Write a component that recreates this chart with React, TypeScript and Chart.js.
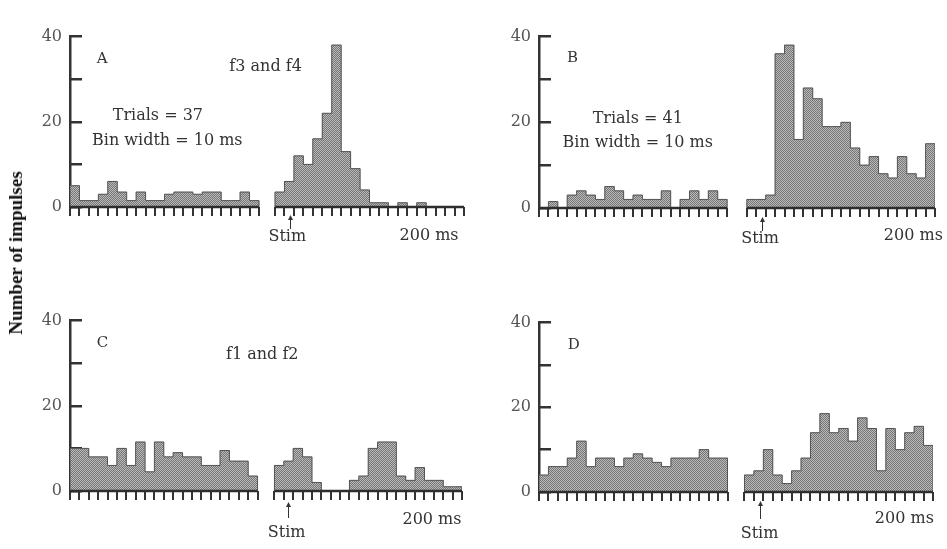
import React, { useEffect, useRef } from "react";
import { Chart, registerables } from "chart.js";

Chart.register(...registerables);

// ---- data (impulse counts per 10 ms bin) ----
const BINS = 20;
const A_PRE = [5, 1.5, 1.5, 3, 6, 3.5, 1.5, 3.5, 1.5, 1.5, 3, 3.5, 3.5, 3, 3.5, 3.5, 1.5, 1.5, 3.5, 1.5];
const A_POST = [3.5, 6, 12, 10, 16, 22, 38, 13, 9, 4, 1, 1, 0, 1, 0, 1, 0, 0, 0, 0];
const B_PRE = [0, 1.5, 0, 3, 4, 3, 2, 5, 4, 2, 3, 2, 2, 4, 0, 2, 4, 2, 4, 2];
const B_POST = [2, 2, 3, 36, 38, 16, 28, 25.5, 19, 19, 20, 14, 10, 12, 8, 7, 12, 8, 7, 15];
const C_PRE = [10, 10, 8, 8, 6, 10, 6, 11.5, 4.5, 11.5, 8, 9, 8, 8, 6, 6, 9.5, 7, 7, 3.5];
const C_POST = [6, 7, 10, 8, 2, 0, 0, 0, 2.5, 3.5, 10, 11.5, 11.5, 3.5, 2.5, 5.5, 2.5, 2.5, 1, 1];
const D_PRE = [4, 6, 6, 8, 12, 6, 8, 8, 6, 8, 9, 8, 7, 6, 8, 8, 8, 10, 8, 8];
const D_POST = [4, 5, 10, 4, 2, 5, 8, 14, 18.5, 14, 15, 12, 17.5, 15, 5, 15, 10, 14, 15.5, 11];

const Y_TICKS = [0, 10, 20, 30, 40];
const Y_TICK_LABELS = ["0", "", "20", "", "40"];

// ---- layout ----
const AXW = 50;
const PADT = 10;
const PADR = 25;
const XAH = 60;
const FONT = '"DejaVu Serif", serif';

type Txt = { text: string; x: number; y?: number; dy?: number; size: number; color?: string };
type PanelCfg = {
  pre: number[];
  post: number[];
  areaLeft: number;
  areaTop: number;
  areaBottom: number;
  px: number;
  postStart: number;
  texts: Txt[];
  arrow: { x: number; tip: number; tail: number };
};

const PANELS: PanelCfg[] = [
  {
    pre: A_PRE, post: A_POST, areaLeft: 70, areaTop: 17, areaBottom: 207, px: 9.45, postStart: 21.7,
    texts: [
      { text: "A", x: 3.4, y: 34.7, size: 15 },
      { text: "f3 and f4", x: 20.7, y: 32.8, size: 16 },
      { text: "Trials = 37", x: 9.3, y: 21.5, size: 16 },
      { text: "Bin width = 10 ms", x: 10.3, y: 15.6, size: 16 },
      { text: "Stim", x: 23.0, dy: 30, size: 16 },
      { text: "200 ms", x: 38.0, dy: 29, size: 16 },
    ],
    arrow: { x: 23.28, tip: 8, tail: 22 },
  },
  {
    pre: B_PRE, post: B_POST, areaLeft: 539, areaTop: 16.7, areaBottom: 208, px: 9.4, postStart: 22.1,
    texts: [
      { text: "B", x: 3.56, y: 35, size: 15 },
      { text: "Trials = 41", x: 10.5, y: 20.8, size: 16 },
      { text: "Bin width = 10 ms", x: 10.5, y: 15.3, size: 16 },
      { text: "Stim", x: 23.5, dy: 31, size: 16 },
      { text: "200 ms", x: 39.8, dy: 28, size: 16 },
    ],
    arrow: { x: 23.7, tip: 9, tail: 23 },
  },
  {
    pre: C_PRE, post: C_POST, areaLeft: 70, areaTop: 300.7, areaBottom: 490.5, px: 9.38, postStart: 21.8,
    texts: [
      { text: "C", x: 3.46, y: 34.8, size: 15 },
      { text: "f1 and f2", x: 20.5, y: 31.9, size: 16 },
      { text: "Stim", x: 23.1, dy: 42, size: 16 },
      { text: "200 ms", x: 38.6, dy: 29, size: 16 },
    ],
    arrow: { x: 23.24, tip: 11, tail: 27 },
  },
  {
    pre: D_PRE, post: D_POST, areaLeft: 538.5, areaTop: 303.3, areaBottom: 492, px: 9.43, postStart: 21.8,
    texts: [
      { text: "D", x: 3.7, y: 34.8, size: 15 },
      { text: "Stim", x: 23.4, dy: 42, size: 16 },
      { text: "200 ms", x: 38.76, dy: 27, size: 16 },
    ],
    arrow: { x: 23.4, tip: 9, tail: 27 },
  },
];

function makePattern(ctx: CanvasRenderingContext2D) {
  const c = document.createElement("canvas");
  c.width = 2;
  c.height = 2;
  const g = c.getContext("2d")!;
  g.fillStyle = "#bababa";
  g.fillRect(0, 0, 2, 2);
  g.fillStyle = "#767676";
  g.fillRect(0, 0, 1, 1);
  g.fillRect(1, 1, 1, 1);
  return ctx.createPattern(c, "repeat")!;
}

function outline(vals: number[], start: number) {
  const pts: { x: number; y: number | null }[] = [{ x: start, y: 0 }];
  vals.forEach((v, i) => pts.push({ x: start + i, y: v }));
  pts.push({ x: start + vals.length, y: vals[vals.length - 1] });
  pts.push({ x: start + vals.length, y: 0 });
  return pts;
}

const textPlugin = {
  id: "panelText",
  afterDraw(chart: any, _args: any, opts: any) {
    const { ctx } = chart;
    const xs = chart.scales.x;
    const ys = chart.scales.y;
    const base = ys.getPixelForValue(0);
    ctx.save();
    ctx.textAlign = "center";
    ctx.textBaseline = "middle";
    for (const t of opts.texts as Txt[]) {
      const px = xs.getPixelForValue(t.x);
      const py = t.y !== undefined ? ys.getPixelForValue(t.y) : base + (t.dy || 0);
      ctx.font = `${t.size}px ${FONT}`;
      ctx.fillStyle = t.color || "#333";
      ctx.fillText(t.text, px, py);
    }
    const a = opts.arrow;
    const ax = Math.round(xs.getPixelForValue(a.x)) + 0.5;
    ctx.strokeStyle = "#333";
    ctx.fillStyle = "#333";
    ctx.lineWidth = 1;
    ctx.beginPath();
    ctx.moveTo(ax, base + a.tail);
    ctx.lineTo(ax, base + a.tip + 3);
    ctx.stroke();
    ctx.beginPath();
    ctx.moveTo(ax, base + a.tip);
    ctx.lineTo(ax - 2.5, base + a.tip + 5);
    ctx.lineTo(ax + 2.5, base + a.tip + 5);
    ctx.closePath();
    ctx.fill();
    ctx.restore();
  },
};

function Panel({ cfg }: { cfg: PanelCfg }) {
  const ref = useRef<HTMLCanvasElement>(null);
  const xMax = cfg.postStart + BINS;
  const w = Math.round(AXW + xMax * cfg.px + PADR);
  const h = Math.round(PADT + (cfg.areaBottom - cfg.areaTop) + XAH);
  const left = Math.round(cfg.areaLeft - AXW);
  const top = Math.round(cfg.areaTop - PADT);

  useEffect(() => {
    const canvas = ref.current!;
    const ctx = canvas.getContext("2d")!;
    const pattern = makePattern(ctx);
    const bars = [
      ...cfg.pre.map((v, i) => ({ x: i + 0.5, y: v })),
      ...cfg.post.map((v, i) => ({ x: cfg.postStart + i + 0.5, y: v })),
    ];
    const mid = (BINS + cfg.postStart) / 2;
    const outlinePts = [...outline(cfg.pre, 0), { x: mid, y: null }, ...outline(cfg.post, cfg.postStart)];
    const basePts = [
      { x: 0, y: 0 },
      { x: BINS, y: 0 },
      { x: mid, y: null },
      { x: cfg.postStart, y: 0 },
      { x: xMax, y: 0 },
    ];
    const xTicks: number[] = [];
    for (let i = 0; i <= BINS; i++) xTicks.push(i);
    for (let i = 0; i <= BINS; i++) xTicks.push(cfg.postStart + i);

    const chart = new Chart(ctx, {
      type: "bar",
      data: {
        datasets: [
          {
            type: "line",
            data: basePts as any,
            borderColor: "#2e2e2e",
            borderWidth: 2.5,
            pointRadius: 0,
            spanGaps: false,
            clip: false as any,
            order: 1,
          } as any,
          {
            type: "line",
            data: outlinePts as any,
            borderColor: "#555",
            borderWidth: 1,
            pointRadius: 0,
            stepped: true,
            spanGaps: false,
            order: 2,
          } as any,
          {
            type: "bar",
            data: bars as any,
            backgroundColor: pattern as any,
            borderWidth: 0,
            barPercentage: 1,
            categoryPercentage: 1,
            grouped: false,
            order: 3,
          } as any,
        ],
      },
      options: {
        responsive: false,
        animation: false,
        events: [],
        layout: { padding: { top: PADT, right: PADR, left: 0, bottom: 0 } },
        plugins: {
          legend: { display: false },
          tooltip: { enabled: false },
          panelText: { texts: cfg.texts, arrow: cfg.arrow },
        } as any,
        scales: {
          x: {
            type: "linear",
            min: 0,
            max: xMax,
            offset: false,
            afterBuildTicks: (s: any) => {
              s.ticks = xTicks.map((v) => ({ value: v }));
            },
            afterFit: (s: any) => {
              s.height = XAH;
            },
            ticks: { display: false },
            grid: {
              display: true,
              offset: false,
              drawOnChartArea: false,
              drawTicks: true,
              tickLength: 9,
              lineWidth: 2,
              color: "#333",
            },
            border: { display: false },
          } as any,
          y: {
            type: "linear",
            min: 0,
            max: 40,
            afterBuildTicks: (s: any) => {
              s.ticks = Y_TICKS.map((v) => ({ value: v }));
            },
            afterFit: (s: any) => {
              s.width = AXW;
            },
            ticks: {
              callback: (_v: any, i: number) => Y_TICK_LABELS[i],
              padding: 20,
              color: "#555",
              font: { family: FONT, size: 16 },
            },
            grid: {
              drawOnChartArea: false,
              drawTicks: true,
              tickLength: -12,
              lineWidth: 2.5,
              color: "#333",
            },
            border: { display: true, width: 2.5, color: "#333" },
          } as any,
        },
      },
      plugins: [textPlugin as any],
    });
    return () => chart.destroy();
  }, [cfg]);

  return (
    <canvas
      ref={ref}
      width={w}
      height={h}
      style={{ position: "absolute", left, top, width: w, height: h }}
    />
  );
}

export default function App() {
  return (
    <div
      style={{
        position: "fixed",
        left: 0,
        top: 0,
        width: 947,
        height: 549,
        background: "#fff",
        overflow: "hidden",
      }}
    >
      {PANELS.map((p, i) => (
        <Panel key={i} cfg={p} />
      ))}
      <div
        style={{
          position: "absolute",
          left: 16,
          top: 253,
          transform: "translate(-50%, -50%) rotate(-90deg)",
          whiteSpace: "nowrap",
          font: 'bold 19px "Liberation Serif", serif',
          color: "#111",
        }}
      >
        Number of impulses
      </div>
    </div>
  );
}
